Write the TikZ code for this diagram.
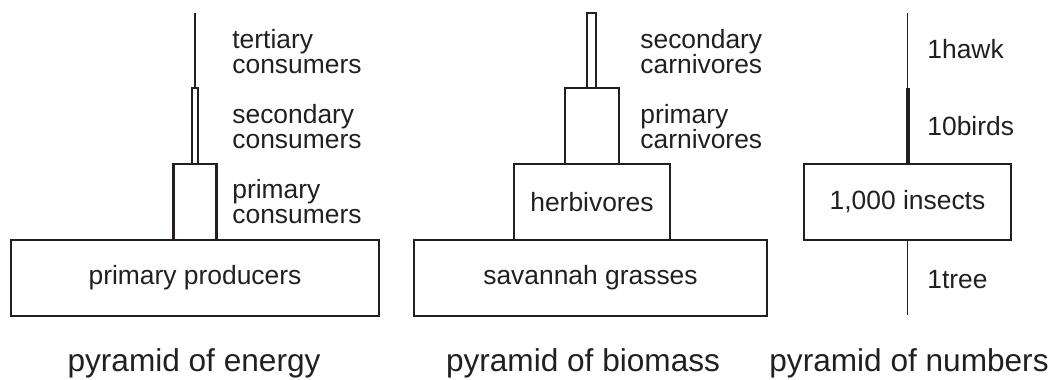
\documentclass[tikz,border=0pt]{standalone}
\usepackage{fontspec}
\setmainfont{Liberation Sans}
\definecolor{ink}{HTML}{231F20}
\begin{document}
\begin{tikzpicture}[x=0.5pt,y=-0.5pt,
  box/.style={draw=ink, line width=1.1pt, inner sep=0pt, minimum height=38pt, text=ink, font=\fontsize{13.2}{15}\selectfont},
  lbl/.style={anchor=base west, inner sep=0pt, text=ink, font=\fontsize{13.2}{15}\selectfont},
  ttl/.style={anchor=base, inner sep=0pt, text=ink, font=\fontsize{15.8}{18}\selectfont},
  stem/.style={draw=ink, line width=1pt},
  thinline/.style={draw=ink, line width=0.65pt},
  thickline/.style={draw=ink, line width=2pt}]
\useasboundingbox (0,0) rectangle (1050,380);

% pyramid of energy
\node[box, minimum width=184pt] (pp) at (195,278) {primary producers};
\node[box, minimum width=21.5pt] (pc) at (195,202) {};
\node[box, minimum width=3pt] (sc) at (195,126) {};
\coordinate (tc) at (195,13);
\draw[stem] (sc.north) -- (tc);
\node[lbl] (e1a) at (232,48) {tertiary};
\node[lbl] (e1b) at (232,73) {consumers};
\node[lbl] (e2a) at (232,123) {secondary};
\node[lbl] (e2b) at (232,148) {consumers};
\node[lbl] (e3a) at (232,198) {primary};
\node[lbl] (e3b) at (232,223) {consumers};
\node[ttl] (te) at (194,371) {pyramid of energy};

% pyramid of biomass
\node[box, minimum width=176.5pt] (sg) at (590.5,278) {savannah grasses};
\node[box, minimum width=78pt] (hb) at (592,202) {herbivores};
\node[box, minimum width=27pt] (pcv) at (592,126) {};
\node[box, minimum width=4.5pt, minimum height=37.5pt] (scv) at (591.5,50.5) {};
\node[lbl] (b1a) at (640,48) {secondary};
\node[lbl] (b1b) at (640,73) {carnivores};
\node[lbl] (b2a) at (640,123) {primary};
\node[lbl] (b2b) at (640,148) {carnivores};
\node[ttl] (tb) at (583,371) {pyramid of biomass};

% pyramid of numbers
\node[box, minimum width=103.5pt] (ins) at (907.5,202) {1,000 insects};
\coordinate (ntop) at (907.5,13);
\coordinate (nmid) at (907.5,88);
\coordinate (nbot) at (907.5,315);
\draw[thinline] (ntop) -- (nmid);
\draw[thickline] (nmid) -- (ins.north);
\draw[thinline] (ins.south) -- (nbot);
\node[lbl] (n1) at (927,58) {1hawk};
\node[lbl] (n2) at (927,135) {10birds};
\node[lbl] (n3) at (927,288) {1tree};
\node[ttl] (tn) at (909,371) {pyramid of numbers};
\end{tikzpicture}
\end{document}
